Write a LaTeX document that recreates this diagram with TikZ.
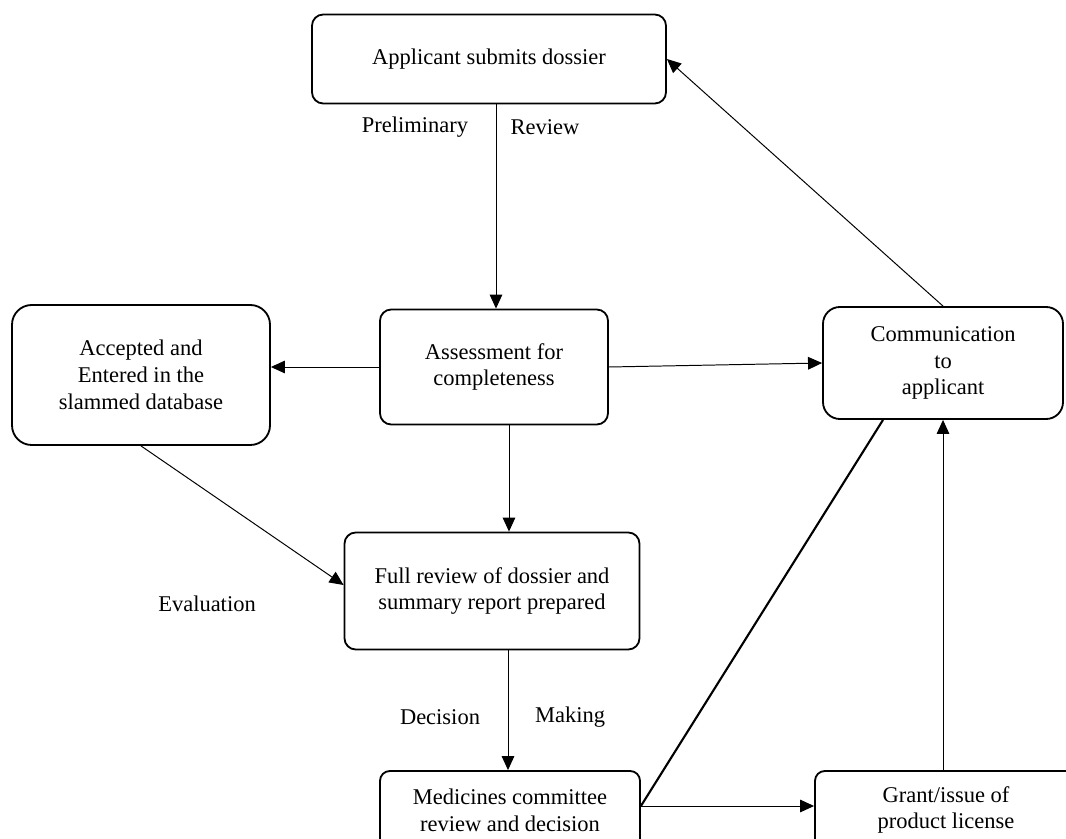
\documentclass[tikz,border=0pt]{standalone}
\usepackage{fontspec}
\setmainfont{Liberation Serif}
\usetikzlibrary{arrows.meta,calc,positioning}

\begin{document}
\begin{tikzpicture}[x=0.025cm,y=-0.025cm,>={Triangle[length=10pt,width=9pt]},
    stepbox/.style={draw,line width=1.3pt,rounded corners=8pt,align=center,
      font=\fontsize{16}{19}\selectfont,inner sep=2pt},
    flow/.style={->,line width=0.7pt},
    lbl/.style={font=\fontsize{16}{19}\selectfont}]
  % page frame, the lower boxes run off the edge
  \useasboundingbox (0,0) rectangle (1066,839);
  \clip (0,0) rectangle (1066,839);
  % boxes
  \node[stepbox,minimum width=354*0.025cm,minimum height=89*0.025cm] (apps) at (489,59) {Applicant submits dossier};
  \node[stepbox,minimum width=228*0.025cm,minimum height=115*0.025cm] (assess) at (494,367) {Assessment for\\completeness};
  \node[stepbox,rounded corners=14pt,minimum width=258*0.025cm,minimum height=140*0.025cm] (accepted) at (141,375) {Accepted and\\Entered in the\\slammed database};
  \node[stepbox,rounded corners=12pt,minimum width=240*0.025cm,minimum height=112*0.025cm] (comm) at (943,363) {Communication\\to\\applicant};
  \node[stepbox,minimum width=295*0.025cm,minimum height=117*0.025cm] (full) at (492,591) {Full review of dossier and\\summary report prepared};
  \node[stepbox,rounded corners=7pt,minimum width=260*0.025cm,minimum height=78*0.025cm] (med) at (510,810) {Medicines committee\\review and decision};
  \node[stepbox,rounded corners=7pt,minimum width=262*0.025cm,minimum height=78*0.025cm] (grant) at (946,810) {Grant/issue of\\product license};
  % labels on the links
  \node[lbl] (prelim) at (415,127) {Preliminary};
  \node[lbl] (review) at (545,127) {Review};
  \node[lbl] (evalu) at (207,604) {Evaluation};
  \node[lbl] (decis) at (440,717) {Decision};
  \node[lbl] (making) at (570,717) {Making};
  % link ends
  \coordinate (appsfoot) at ($(apps.south)+(7,0)$);
  \coordinate (asfoot) at ($(assess.south)+(15,0)$);
  \coordinate (fullfoot) at ($(full.south)+(16,0)$);
  \coordinate (medout) at ($(med.east)+(0,-4)$);
  \coordinate (commfoot) at ($(comm.south)+(-60,0)$);
  % links
  \draw[flow] (appsfoot) -- (appsfoot |- assess.north);
  \draw[flow] (assess.west) -- (assess.west -| accepted.east);
  \draw[flow] (assess.east) -- (comm.west);
  \draw[flow] (asfoot) -- (asfoot |- full.north);
  \draw[flow] (accepted.south) -- ($(full.west)+(0,-6)$);
  \draw[flow] (fullfoot) -- (fullfoot |- med.north);
  \draw[flow] (medout) -- (medout -| grant.west);
  \draw[line width=1.5pt] (medout) -- (commfoot);
  \draw[flow] (grant.north -| comm.south) -- (comm.south);
  \draw[flow] (comm.north) -- (apps.east);
\end{tikzpicture}
\end{document}
